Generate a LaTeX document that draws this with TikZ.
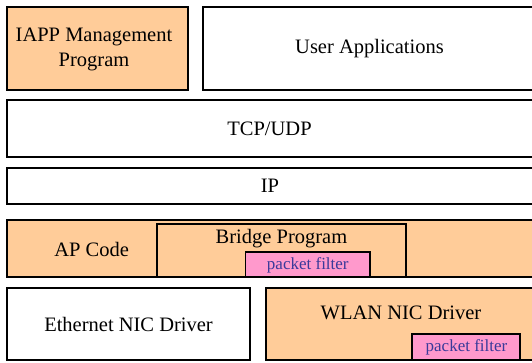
\documentclass[tikz,border=0pt]{standalone}
\usepackage{fontspec}
\setmainfont{Liberation Serif}
\newfontfamily\layerfont{Liberation Serif}
\definecolor{peach}{HTML}{FFCC99}
\definecolor{pinkf}{HTML}{FF99CC}
\definecolor{pftext}{HTML}{3A3A9A}
\begin{document}
\begin{tikzpicture}[x=1pt,y=-1pt,
  box/.style={draw=black,line width=2pt,inner sep=0pt,outer sep=0pt,anchor=center},
  wbox/.style={box,fill=white},
  obox/.style={box,fill=peach},
  fbox/.style={draw=black,line width=1.6pt,fill=pinkf,inner sep=0pt,outer sep=0pt,anchor=center},
  lbl/.style={font=\layerfont\fontsize{20.5}{25}\selectfont,inner sep=0pt,align=center},
  plbl/.style={font=\layerfont\fontsize{17}{20}\selectfont,text=pftext,inner sep=0pt}]
\useasboundingbox (0,0) rectangle (532,362);
\clip (0,0) rectangle (532,362);
% layer boxes
\node[obox,minimum width=181.3pt,minimum height=83pt] (iapp) at (97.3,48.5) {};
\node[wbox,minimum width=337pt,minimum height=83pt] (user) at (371.5,48.5) {};
\node[wbox,minimum width=533.3pt,minimum height=57pt] (tcp) at (273.3,128.5) {};
\node[wbox,minimum width=533.3pt,minimum height=36pt] (ip) at (273.3,186) {};
\node[obox,minimum width=533.3pt,minimum height=57pt] (ap) at (273.3,248.5) {};
\node[obox,minimum width=249pt,minimum height=53pt] (bridge) at (281.5,250.5) {};
\node[fbox,minimum width=124.4pt,minimum height=25pt] (pf1) at (307.8,264.5) {};
\node[wbox,minimum width=243.3pt,minimum height=72pt] (eth) at (128.35,324) {};
\node[obox,minimum width=274.3pt,minimum height=72pt] (wlan) at (402.85,324) {};
\node[fbox,minimum width=108.3pt,minimum height=26pt] (pf2) at (465.85,347) {};
% labels
\node[lbl] (tiapp) at (94,49.5) {IAPP Management\\Program};
\node[lbl] (tuser) at (369.5,48.5) {User Applications};
\node[lbl] (ttcp) at (269.5,128.5) {TCP/UDP};
\node[lbl] (tip) at (270,186) {IP};
\node[lbl] (tap) at (91.7,249) {AP Code};
\node[lbl] (tbridge) at (281.5,239) {Bridge Program};
\node[plbl] (tpf1) at (307.8,265) {packet filter};
\node[lbl] (teth) at (128.5,324) {Ethernet NIC Driver};
\node[lbl] (twlan) at (401,312.5) {WLAN NIC Driver};
\node[plbl] (tpf2) at (466.5,347.5) {packet filter};
\end{tikzpicture}
\end{document}
